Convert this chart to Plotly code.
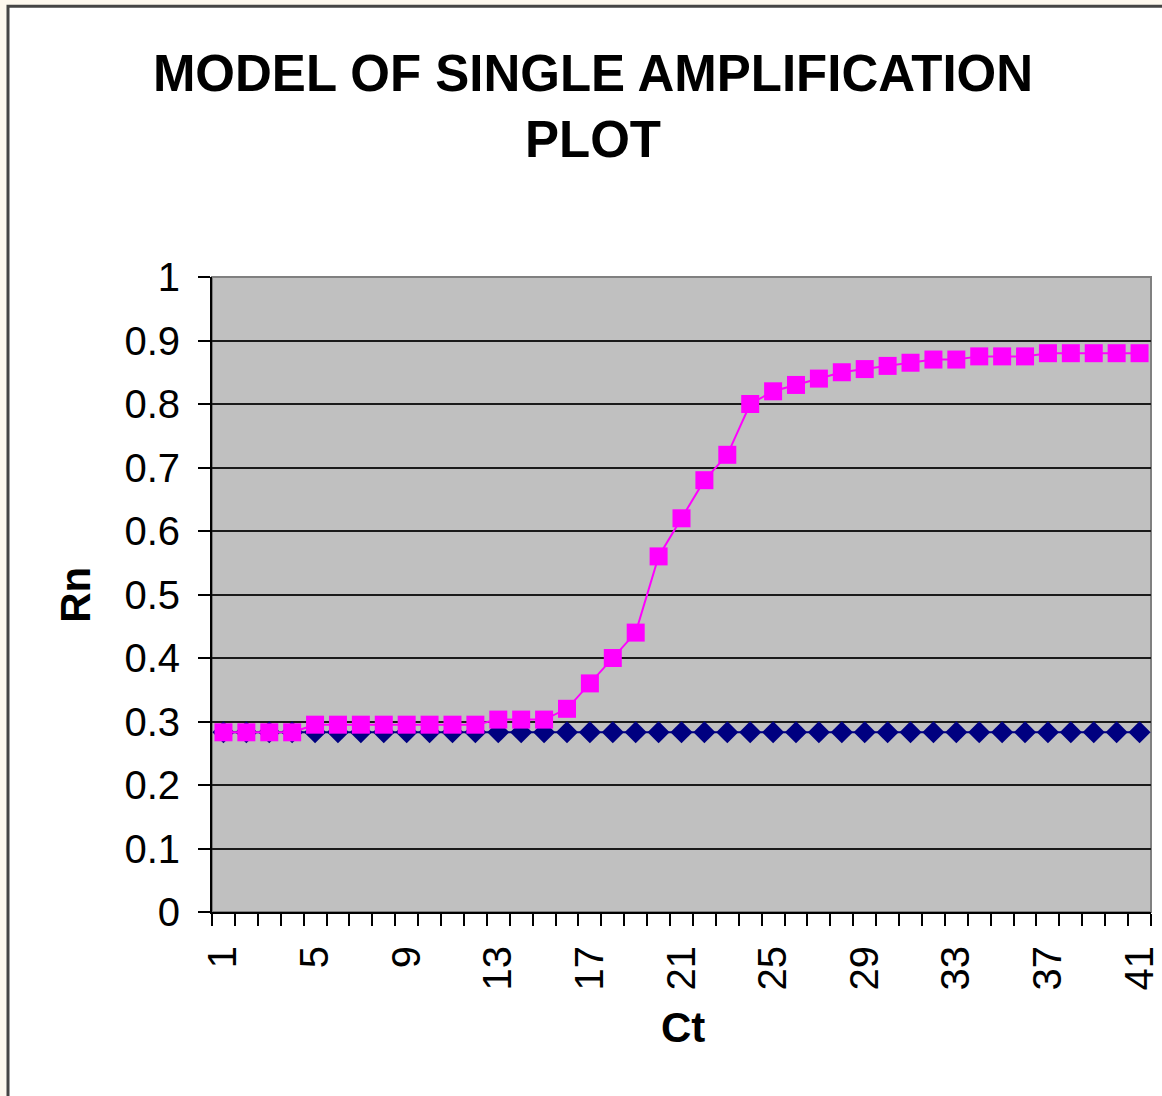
import plotly.graph_objects as go

# Ct cycle numbers and the two Rn series
ct = list(range(1, 42))
baseline_rn = [0.283] * 41
sample_rn = [
    0.283, 0.283, 0.283, 0.283,
    0.295, 0.295, 0.295, 0.295, 0.295, 0.295, 0.295, 0.295,
    0.303, 0.303, 0.303,
    0.32, 0.36, 0.40, 0.44, 0.56, 0.62, 0.68, 0.72, 0.80,
    0.82, 0.83, 0.84, 0.85, 0.855, 0.86, 0.865, 0.87, 0.87,
    0.875, 0.875, 0.875, 0.88, 0.88, 0.88, 0.88, 0.88,
]
x_tick_labels = ["1", "5", "9", "13", "17", "21", "25", "29", "33", "37", "41"]

W, H = 1162, 1096
L, R, T, B = 212, 1151, 277, 912.5
FONT = "Liberation Sans, Arial, sans-serif"


def px_x(x):
    return (x - L) / (R - L)


def px_y(y):
    return (B - y) / (B - T)


fig = go.Figure()
fig.add_trace(go.Scatter(
    x=ct, y=baseline_rn, mode="lines+markers",
    line=dict(color="#000080", width=2),
    marker=dict(symbol="diamond", size=17, color="#000080"),
    showlegend=False,
))
fig.add_trace(go.Scatter(
    x=ct, y=sample_rn, mode="lines+markers",
    line=dict(color="#ff00ff", width=2),
    marker=dict(symbol="square", size=18, color="#ff00ff"),
    showlegend=False,
))

cream = "#fdf8ee"
shapes = [
    # cream strips outside the chart area
    dict(type="rect", xref="paper", yref="paper", layer="below",
         x0=px_x(-5), x1=px_x(W + 5), y0=px_y(5), y1=px_y(-5),
         fillcolor=cream, line=dict(width=0)),
    dict(type="rect", xref="paper", yref="paper", layer="below",
         x0=px_x(-5), x1=px_x(7), y0=px_y(H + 5), y1=px_y(-5),
         fillcolor=cream, line=dict(width=0)),
    # chart area border
    dict(type="path", xref="paper", yref="paper", layer="above",
         path=f"M {px_x(8)},{px_y(H + 5)} L {px_x(8)},{px_y(6)} L {px_x(W + 5)},{px_y(6)}",
         line=dict(color="#454545", width=3)),
    # plot area border
    dict(type="rect", xref="paper", yref="paper", layer="below",
         x0=0, x1=1, y0=0, y1=1, line=dict(color="#808080", width=2)),
]

annotations = [
    dict(text="Rn", xref="paper", yref="paper", x=px_x(76), y=px_y(595),
         xanchor="center", yanchor="middle",
         showarrow=False, textangle=-90,
         font=dict(family=FONT, size=42, color="black", weight="bold")),
    dict(text="Ct", xref="paper", yref="paper", x=px_x(683), y=px_y(1028),
         xanchor="center", yanchor="middle",
         showarrow=False,
         font=dict(family=FONT, size=42, color="black", weight="bold")),
]

fig.update_layout(
    width=W, height=H,
    margin=dict(l=L, r=W - R, t=T, b=H - B, pad=0),
    paper_bgcolor="white",
    plot_bgcolor="#c0c0c0",
    title=dict(
        text="MODEL OF SINGLE AMPLIFICATION<br>PLOT",
        x=593 / W, xanchor="center", xref="container",
        y=1 - 91 / H, yanchor="middle", yref="container",
        font=dict(family=FONT, size=51, color="black", weight="bold"),
    ),
    shapes=shapes,
    annotations=annotations,
    showlegend=False,
)

fig.update_xaxes(
    range=[0.5, 41.5],
    automargin=False,
    tickvals=[int(t) for t in x_tick_labels],
    ticktext=x_tick_labels,
    tickangle=-90,
    ticks="outside", ticklen=12, tickcolor="rgba(0,0,0,0)",
    minor=dict(tick0=0.5, dtick=1, ticks="outside", ticklen=12,
               tickcolor="black", tickwidth=2, showgrid=False),
    ticklabelstandoff=4,
    showgrid=False, zeroline=False,
    showline=True, linecolor="black", linewidth=2,
    tickfont=dict(family=FONT, size=40, color="black"),
)
fig.update_yaxes(
    range=[0, 1], dtick=0.1, tick0=0,
    automargin=False,
    tickformat="~g",
    ticks="outside", ticklen=12, tickcolor="black", tickwidth=2,
    ticklabelstandoff=10,
    showgrid=True, gridcolor="#1a1a1a", gridwidth=2,
    zeroline=False,
    showline=True, linecolor="black", linewidth=2,
    tickfont=dict(family=FONT, size=40, color="black"),
)

fig.write_html(
    "out.html",
    config={"displayModeBar": False},
    post_script="document.body.style.margin='0';document.body.style.background='%s';" % cream,
)
